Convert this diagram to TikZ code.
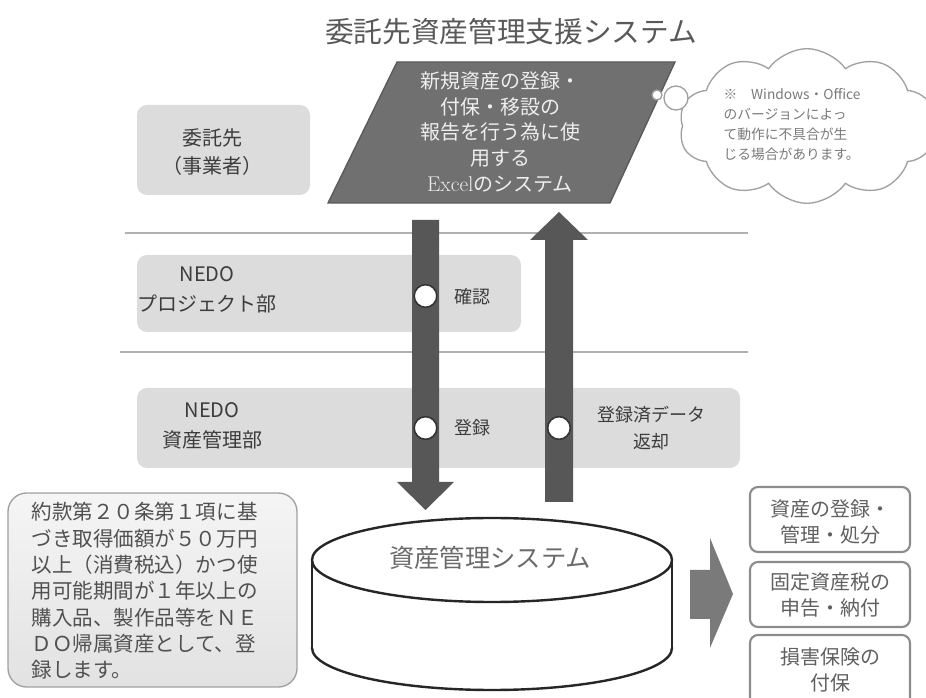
\documentclass[tikz,border=0pt]{standalone}
\usepackage{fontspec}
\setmainfont{Noto Sans CJK JP}
\newfontfamily\lmserif{Latin Modern Roman}
\usetikzlibrary{shapes.symbols}
\definecolor{lanefill}{HTML}{DCDCDC}
\definecolor{lanetext}{HTML}{3C3C3C}
\definecolor{sepline}{HTML}{B0B0B0}
\definecolor{darkarrow}{HTML}{575757}
\definecolor{paraf}{HTML}{707070}
\definecolor{parad}{HTML}{5A5A5A}
\definecolor{paratext}{HTML}{EEEEEE}
\definecolor{cloudline}{HTML}{A0A0A0}
\definecolor{cloudtext}{HTML}{7A7A7A}
\definecolor{boxline}{HTML}{8C8C8C}
\definecolor{boxtext}{HTML}{606060}
\definecolor{notetop}{HTML}{F5F5F5}
\definecolor{notebot}{HTML}{E2E2E2}
\definecolor{noteline}{HTML}{A0A0A0}
\definecolor{notetext}{HTML}{505050}
\definecolor{midarrow}{HTML}{7A7A7A}
\begin{document}
\begin{tikzpicture}[x=0.75pt,y=-0.75pt,
  lanebox/.style={fill=lanefill,draw=none,rounded corners=7.5pt},
  lanelabel/.style={text=lanetext,align=center,font=\fontsize{15}{21}\selectfont},
  flowlabel/.style={text=lanetext,align=center,font=\fontsize{13.5}{20}\selectfont},
  ring/.style={circle,fill=white,draw=black!80,line width=1.2pt,minimum size=17pt,inner sep=0pt},
  blockarrow/.style={fill=darkarrow,draw=none},
  outbox/.style={fill=white,draw=boxline,line width=1.6pt,rounded corners=6pt},
  outlabel/.style={text=boxtext,align=center,font=\fontsize{15}{19.5}\selectfont},
  cyl/.style={fill=white,draw=black!85,line width=1.8pt}]
\useasboundingbox (0,0) rectangle (926,698);

% title
\node[text=black!65,font=\fontsize{21.5}{24}\selectfont] (title) at (511,32) {委託先資産管理支援システム};

% lane boxes
\fill[lanebox] (137,105) rectangle (310,195);
\fill[lanebox] (137,255) rectangle (521,332);
\fill[lanebox] (137,388) rectangle (740,468);

% separator lines
\draw[sepline,line width=1.5pt] (125,233) -- (748,233);
\draw[sepline,line width=1.5pt] (120,352) -- (748,352);

% lane labels
\node[lanelabel] (l1) at (212,152) {委託先\\（事業者）};
\node[lanelabel,font=\fontsize{15}{22.5}\selectfont] (l2) at (207,290) {NEDO\\プロジェクト部};
\node[lanelabel,font=\fontsize{15}{22.5}\selectfont] (l3) at (212,426) {NEDO\\資産管理部};

% parallelogram
\filldraw[fill=paraf,draw=parad,line width=1pt] (328,203) -- (397,62) -- (675,62) -- (610,203) -- cycle;
\node[text=paratext,align=center,font=\fontsize{15}{19.2}\selectfont] (excel) at (500,132)
  {新規資産の登録・\\付保・移設の\\報告を行う為に使\\用する\\{\lmserif\fontsize{16}{19}\selectfont Excel}のシステム};

% cloud
\node[cloud,cloud puffs=10,cloud puff arc=110,cloud ignores aspect,draw=cloudline,line width=1pt,fill=white,
  minimum width=192pt,minimum height=116pt] (cloud) at (807,126) {};
\draw[cloudline,line width=1pt,fill=white] (676,98) circle[radius=12];
\draw[cloudline,line width=1pt,fill=white] (657,95) circle[radius=5];
\node[anchor=west,text=cloudtext,align=left,font=\fontsize{10.3}{15}\selectfont] (cloudtxt) at (719,125)
  {※　Windows・Office\\のバージョンによっ\\て動作に不具合が生\\じる場合があります。};

% block arrows
\fill[blockarrow] (412,220) -- (439,220) -- (439,482) -- (454,482) -- (425.5,510) -- (397,482) -- (412,482) -- cycle;
\fill[blockarrow] (545,502) -- (573,502) -- (573,240) -- (588,240) -- (559,212) -- (530,240) -- (545,240) -- cycle;

% rings
\node[ring] (r1) at (425.5,296) {};
\node[ring] (r2) at (425.5,428) {};
\node[ring] (r3) at (559,428) {};

% flow labels
\node[flowlabel] (f1) at (472,297) {確認};
\node[flowlabel] (f2) at (472,428) {登録};
\node[flowlabel] (f3) at (651,428) {登録済データ\\返却};

% cylinder
\filldraw[cyl] (492,648) ellipse[x radius=180,y radius=42];
\fill[white] (313,560) rectangle (671,648);
\draw[black!85,line width=1.8pt] (312,560) -- (312,648);
\draw[black!85,line width=1.8pt] (672,560) -- (672,648);
\filldraw[cyl] (492,560) ellipse[x radius=180,y radius=42];
\node[text=black!58,font=\fontsize{19}{22}\selectfont] (cyltxt) at (490,558) {資産管理システム};

% left note
\draw[top color=notetop,bottom color=notebot,draw=noteline,line width=1pt,rounded corners=14pt] (8,493) rectangle (297,687);
\node[anchor=west,text=notetext,align=left,font=\fontsize{15.4}{19.75}\selectfont] (note) at (27,591)
  {約款第２０条第１項に基\\づき取得価額が５０万円\\以上（消費税込）かつ使\\用可能期間が１年以上の\\購入品、製作品等をＮＥ\\ＤＯ帰属資産として、登\\録します。};

% right arrow
\fill[midarrow] (690,570) -- (710,570) -- (710,538) -- (733,594) -- (710,648) -- (710,619) -- (690,619) -- cycle;

% right boxes
\draw[outbox] (750,487) rectangle (910,552);
\draw[outbox] (750,562) rectangle (910,627);
\draw[outbox] (750,635) rectangle (910,706);
\node[outlabel] (o1) at (830,522) {資産の登録・\\管理・処分};
\node[outlabel] (o2) at (830,595) {固定資産税の\\申告・納付};
\node[outlabel] (o3) at (830,670) {損害保険の\\付保};
\end{tikzpicture}
\end{document}
